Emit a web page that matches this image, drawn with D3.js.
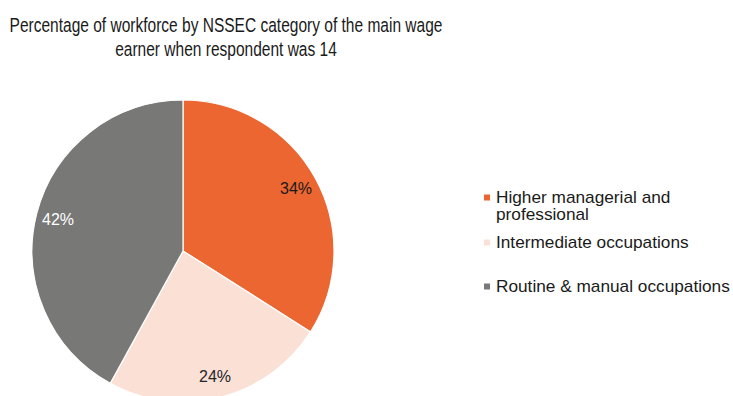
<!DOCTYPE html>
<html>

<head>
  <meta charset="UTF-8" />
  <title>NSSEC pie</title>
  <style>
    body {
      margin: 0;
      background: #ffffff;
      font-family: Arial, "Liberation Sans", Helvetica, sans-serif;
    }
  </style>
  <script src="https://d3js.org/d3.v7.min.js"></script>
</head>

<body>
  <script>
    let width = 733;
    let height = 396;

    /* data */
    let categories = ["Higher managerial and professional", "Intermediate occupations", "Routine & manual occupations"];
    let legendLines = [["Higher managerial and", "professional"], ["Intermediate occupations"], ["Routine & manual occupations"]];
    let shares = [34, 24, 42];
    let sliceColors = ["#eb6631", "#fbe0d6", "#787876"];
    let labelColors = ["#1a1a1a", "#262626", "#ffffff"];
    let titleLines = ["Percentage of workforce by NSSEC category of the main wage", "earner when respondent was 14"];

    let svg = d3.select("body")
      .append("svg")
      .attr("width", width)
      .attr("height", height);

    /* Title, squeezed a little to fit the original width */
    let title = svg.append("g").attr("id", "title");
    title.selectAll("text")
      .data(titleLines)
      .enter()
      .append("text")
      .attr("x", 226)
      .attr("y", (d, i) => 32.5 + i * 24)
      .attr("text-anchor", "middle")
      .style("font-size", "20.5px")
      .style("fill", "#1a1a1a")
      .text(d => d);
    let firstLine = title.select("text").node().getComputedTextLength();
    let titleScale = 433 / firstLine;
    title.attr("transform", `translate(226,0) scale(${titleScale},1) translate(-226,0)`);

    /* Pie */
    let cx = 183, cy = 251, radius = 151;
    let pie = d3.pie().sort(null).value(d => d);
    let arc = d3.arc().innerRadius(0).outerRadius(radius);
    let labelArc = d3.arc().innerRadius(129).outerRadius(129);

    let pieGroup = svg.append("g")
      .attr("transform", `translate(${cx},${cy})`);

    let slices = pieGroup.selectAll(".slice")
      .data(pie(shares))
      .enter()
      .append("g")
      .attr("class", "slice");

    slices.append("path")
      .attr("d", arc)
      .style("fill", (d, i) => sliceColors[i])
      .style("stroke", "#ffffff")
      .style("stroke-width", 1.2);

    slices.append("text")
      .attr("transform", d => `translate(${labelArc.centroid(d)})`)
      .attr("text-anchor", "middle")
      .attr("dy", "0.35em")
      .style("font-size", "16px")
      .style("fill", (d, i) => labelColors[i])
      .text(d => d.data + "%");

    /* Legend */
    let legendY = [197.5, 242.5, 286.5];
    let legend = svg.append("g").attr("id", "legend");

    let items = legend.selectAll(".legend-item")
      .data(categories)
      .enter()
      .append("g")
      .attr("class", "legend-item")
      .attr("transform", (d, i) => `translate(0,${legendY[i]})`);

    items.append("rect")
      .attr("x", 484)
      .attr("y", -3)
      .attr("width", 6)
      .attr("height", 6)
      .style("fill", (d, i) => sliceColors[i]);

    let labels = items.append("text")
      .attr("x", 496)
      .attr("y", 5.8)
      .style("font-size", "16px")
      .style("fill", "#1a1a1a");

    labels.selectAll("tspan")
      .data((d, i) => legendLines[i])
      .enter()
      .append("tspan")
      .attr("x", 496)
      .attr("dy", (d, j) => j === 0 ? 0 : 17)
      .text(d => d);

    /* stretch legend text to the reference width */
    let lastWidth = labels.nodes()[2].getComputedTextLength();
    let legendScale = 234 / lastWidth;
    labels.attr("transform", `translate(496,0) scale(${legendScale},1) translate(-496,0)`);
  </script>
</body>

</html>
